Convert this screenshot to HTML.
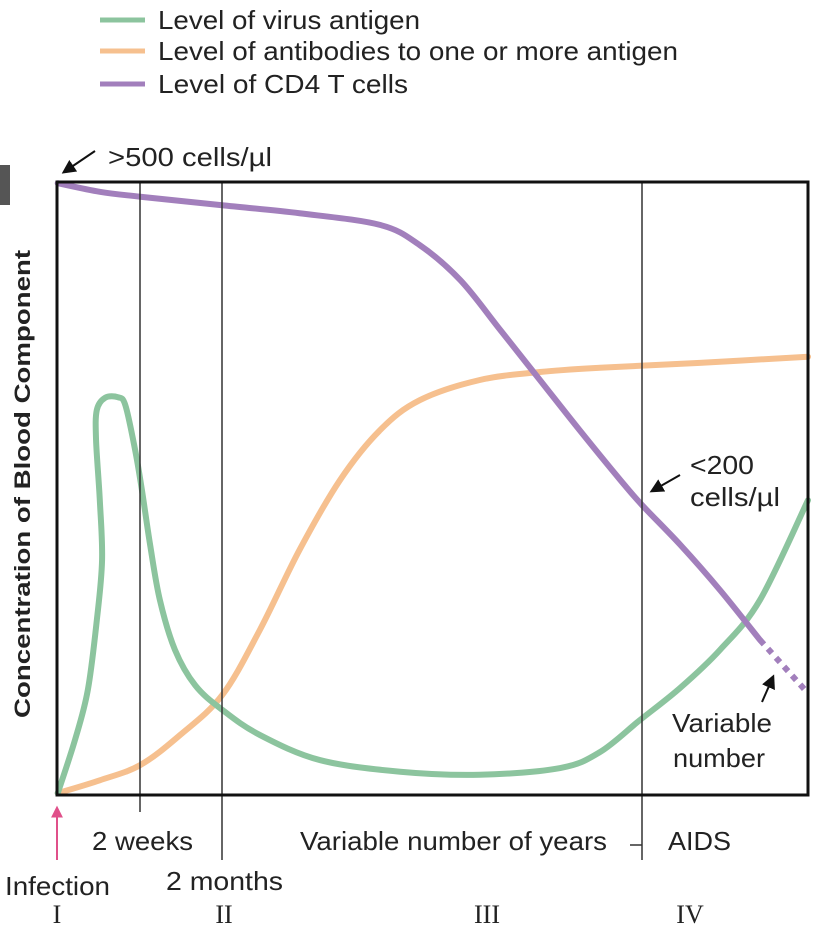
<!DOCTYPE html>
<html><head><meta charset="utf-8"><style>
body{margin:0;background:#fff;}
svg text{font-family:"Liberation Sans",sans-serif;fill:#222;}
.serif{font-family:"Liberation Serif",serif !important;}
</style></head><body>
<svg id="chart" width="822" height="932" viewBox="0 0 822 932" xmlns="http://www.w3.org/2000/svg">
<defs><marker id="ah" viewBox="0 0 10 10" refX="8" refY="5" markerWidth="7" markerHeight="7" orient="auto"><path d="M0,0 L10,5 L0,10 z" fill="#111"/></marker>
<marker id="ahp" viewBox="0 0 10 10" refX="8" refY="5" markerWidth="6" markerHeight="6" orient="auto"><path d="M0,0 L10,5 L0,10 z" fill="#e0508a"/></marker></defs>
<g>
<line x1="100" y1="20" x2="145" y2="20" stroke="#8cc49e" stroke-width="5"/><text x="158" y="29" font-size="26" textLength="262" lengthAdjust="spacingAndGlyphs">Level of virus antigen</text>
<line x1="100" y1="51" x2="145" y2="51" stroke="#f6c08f" stroke-width="5"/><text x="158" y="60" font-size="26" textLength="520" lengthAdjust="spacingAndGlyphs">Level of antibodies to one or more antigen</text>
<line x1="100" y1="84" x2="145" y2="84" stroke="#a27fbc" stroke-width="5"/><text x="158" y="93" font-size="26" textLength="250" lengthAdjust="spacingAndGlyphs">Level of CD4 T cells</text>
</g>
<rect x="0" y="165" width="10" height="40" fill="#555"/>
<text transform="translate(30,484) rotate(-90)" text-anchor="middle" font-size="22" font-weight="bold" textLength="468" lengthAdjust="spacingAndGlyphs">Concentration of Blood Component</text>
<g id="marks"></g>
<g stroke="#333" stroke-width="1.5">
<line x1="140" y1="182" x2="140" y2="812"/><line x1="222" y1="182" x2="222" y2="860"/><line x1="642" y1="182" x2="642" y2="860"/>
<line x1="630" y1="845" x2="642" y2="845"/>
</g>
<rect x="57" y="182" width="751" height="613" fill="none" stroke="#111" stroke-width="3"/>
<line x1="95" y1="151" x2="64" y2="172" stroke="#111" stroke-width="2" marker-end="url(#ah)"/>
<text x="108" y="166" font-size="26" textLength="164" lengthAdjust="spacingAndGlyphs">&gt;500 cells/µl</text>
<line x1="680" y1="475" x2="652" y2="491" stroke="#111" stroke-width="2" marker-end="url(#ah)"/>
<text x="690" y="474" font-size="26" textLength="64" lengthAdjust="spacingAndGlyphs">&lt;200</text>
<text x="690" y="506" font-size="26" textLength="90" lengthAdjust="spacingAndGlyphs">cells/µl</text>
<line x1="762" y1="702" x2="773" y2="677" stroke="#111" stroke-width="2" marker-end="url(#ah)"/>
<text x="672" y="732" font-size="26" textLength="100" lengthAdjust="spacingAndGlyphs">Variable</text>
<text x="673" y="767" font-size="26" textLength="92" lengthAdjust="spacingAndGlyphs">number</text>
<line x1="57" y1="860" x2="57" y2="808" stroke="#e0508a" stroke-width="2" marker-end="url(#ahp)"/>
<text x="92" y="850" font-size="26" textLength="101" lengthAdjust="spacingAndGlyphs">2 weeks</text>
<text x="300" y="850" font-size="26" textLength="307" lengthAdjust="spacingAndGlyphs">Variable number of years</text>
<text x="668" y="850" font-size="26" textLength="63" lengthAdjust="spacingAndGlyphs">AIDS</text>
<text x="5" y="895" font-size="26" textLength="105" lengthAdjust="spacingAndGlyphs">Infection</text>
<text x="166" y="890" font-size="26" textLength="117" lengthAdjust="spacingAndGlyphs">2 months</text>
<text class="serif" x="57" y="923" font-size="26" text-anchor="middle">I</text>
<text class="serif" x="224" y="923" font-size="26" text-anchor="middle">II</text>
<text class="serif" x="487" y="923" font-size="26" text-anchor="middle">III</text>
<text class="serif" x="690" y="923" font-size="26" text-anchor="middle">IV</text>
</svg>
<script>
const virusX=[0.1,2.4,4.1,5.3,6.0,5.7,5.2,5.3,6.4,8.1,9.1,10.4,11.3,12.4,13.7,15.7,18.4,22.0,27.0,35.0,45.7,56.3,67.0,72.3,77.6,83.0,88.3,93.6,100];
const virusY=[0.3,9.0,17.1,28.5,38.3,48.1,57.9,62.8,64.8,64.9,63.6,56.3,49.8,40.8,31.8,23.7,17.9,13.9,9.8,5.7,3.8,3.3,4.4,7.0,12.2,17.5,23.7,31.8,48.1];
const antibodyX=[0.1,5.7,11.1,16.4,22,27,32.3,37.7,43,48.3,56.3,64.3,72.3,85.6,100];
const antibodyY=[0.3,2.4,4.9,9.8,16.3,26.9,40,51.4,59.5,64.4,67.7,69,69.7,70.5,71.5];
const cd4X=[0.1,5.7,11.1,22,32.3,43,48.3,53.7,59,64.3,69.6,75,77.9,83,88.3,93.6];
const cd4Y=[99.8,98.4,97.6,96.2,94.9,93,89.7,84,75.9,67.7,59.5,51.4,47.3,40.8,33.4,25.3];
const cd4DashX=[93.6,100];
const cd4DashY=[25.3,16.6];
const xs=v=>57+v/100*751, ys=v=>795-v/100*613;
function path(X,Y){
  const p=X.map((x,i)=>[xs(x),ys(Y[i])]);
  let d=`M${p[0][0]},${p[0][1]}`;
  for(let i=0;i<p.length-1;i++){
    const p0=p[i-1]||p[i],p1=p[i],p2=p[i+1],p3=p[i+2]||p2;
    d+=` C${p1[0]+(p2[0]-p0[0])/6},${p1[1]+(p2[1]-p0[1])/6} ${p2[0]-(p3[0]-p1[0])/6},${p2[1]-(p3[1]-p1[1])/6} ${p2[0]},${p2[1]}`;
  }
  return d;
}
const g=document.getElementById('marks');
function add(X,Y,c,name,dash){
  const el=document.createElementNS('http://www.w3.org/2000/svg','path');
  el.setAttribute('d',path(X,Y));el.setAttribute('fill','none');el.setAttribute('stroke',c);
  el.setAttribute('stroke-width','6');el.setAttribute('stroke-linecap','round');el.setAttribute('stroke-linejoin','round');
  if(dash){el.setAttribute('stroke-dasharray','6 6');el.setAttribute('stroke-linecap','butt');}
  
  
  g.appendChild(el);
}
add(antibodyX,antibodyY,'#f6c08f','antibody-line');
add(virusX,virusY,'#8cc49e','virus-antigen-line');
add(cd4X,cd4Y,'#a27fbc','cd4-line');
add(cd4DashX,cd4DashY,'#a27fbc','cd4-variable-dashed-line',true);
</script>
</body></html>
